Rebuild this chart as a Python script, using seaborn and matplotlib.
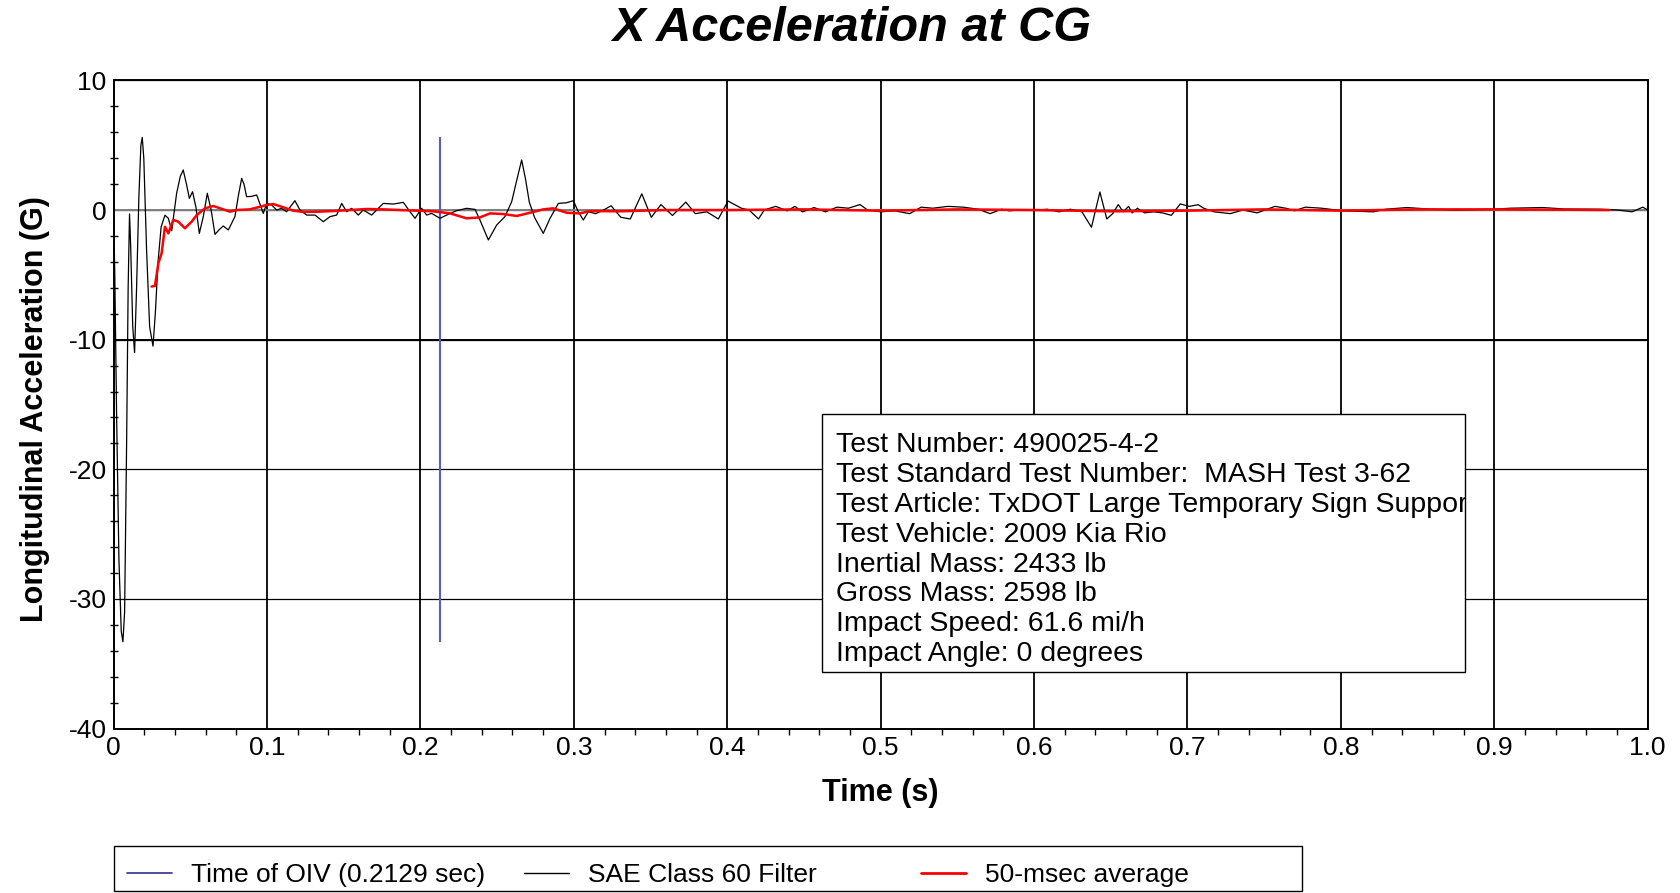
import seaborn as sns
import matplotlib.pyplot as plt
from matplotlib.patches import Rectangle
from matplotlib.ticker import MultipleLocator
import pandas as pd
import numpy as np

# SAE Class 60 filtered signal (time s, accel G)
time_sae = [0.0, 0.0008, 0.0020, 0.0035, 0.0050, 0.0061, 0.0072, 0.0085, 0.0095, 0.0104,
            0.0112, 0.0125, 0.0137, 0.0150, 0.0165, 0.0178, 0.0187, 0.0197, 0.0215, 0.0235,
            0.0257, 0.0272, 0.0290, 0.0310, 0.0335, 0.0357, 0.0379, 0.0411, 0.0435, 0.0454,
            0.0475, 0.0494, 0.0515, 0.0537, 0.0559, 0.0585, 0.0611, 0.0636, 0.0661, 0.0690,
            0.0715, 0.0748, 0.0791, 0.0815, 0.0835, 0.0850, 0.0867, 0.0900, 0.0933, 0.0976,
            0.0998, 0.1030, 0.1063, 0.1095, 0.1128, 0.1182, 0.1215, 0.1259, 0.1313, 0.1367,
            0.1411, 0.1454, 0.1487, 0.1519, 0.1552, 0.1595, 0.1628, 0.1682, 0.1758, 0.1823,
            0.1889, 0.1932, 0.1965, 0.2008, 0.2041, 0.2073, 0.2128, 0.2171, 0.2236, 0.2301,
            0.2356, 0.2388, 0.2443, 0.2497, 0.2551, 0.2595, 0.2630, 0.2660, 0.2685, 0.2710,
            0.2745, 0.2801, 0.2845, 0.2899, 0.2953, 0.2997, 0.3029, 0.3062, 0.3094, 0.3144,
            0.3194, 0.3243, 0.3306, 0.3368, 0.3443, 0.3505, 0.3568, 0.3643, 0.3730, 0.3792,
            0.3867, 0.3942, 0.4005, 0.4092, 0.4142, 0.4204, 0.4241, 0.4316, 0.4391, 0.4441,
            0.4491, 0.4566, 0.4640, 0.4715, 0.4790, 0.4865, 0.4915, 0.5002, 0.5089, 0.5189,
            0.5264, 0.5339, 0.5439, 0.5538, 0.5638, 0.5713, 0.5788, 0.5838, 0.5913, 0.6012,
            0.6087, 0.6162, 0.6237, 0.6312, 0.6374, 0.6429, 0.6474, 0.6512, 0.6549, 0.6581,
            0.6616, 0.6639, 0.6674, 0.6720, 0.6779, 0.6837, 0.6895, 0.6953, 0.7011, 0.7070,
            0.7105, 0.7174, 0.7279, 0.7361, 0.7454, 0.7570, 0.7640, 0.7698, 0.7768, 0.7873,
            0.8013, 0.8210, 0.8292, 0.8431, 0.8594, 0.8757, 0.8990, 0.9107, 0.9316, 0.9456,
            0.9689, 0.9805, 0.9898, 0.9968, 1.0]
accel_sae = [0.0, -5.0, -16.0, -27.0, -32.5, -33.3, -31.0, -18.0, -6.0, -0.3,
             -3.0, -9.0, -11.0, -6.0, 1.0, 5.0, 5.6, 4.0, -3.0, -9.0,
             -10.5, -8.0, -4.0, -1.3, -0.4, -0.64, -1.6, 1.29, 2.6, 3.09,
             2.0, 0.9, 1.41, 0.2, -1.8, -0.5, 1.29, 0.0, -1.88, -1.5,
             -1.23, -1.54, -0.51, 1.2, 2.44, 2.0, 1.03, 1.05, 1.16, -0.26,
             0.51, 0.39, 0.0, 0.13, -0.13, 0.72, 0.0, -0.39, -0.39, -0.9,
             -0.51, -0.39, 0.51, -0.13, 0.13, -0.39, 0.0, -0.39, 0.51, 0.46,
             0.59, -0.13, -0.64, 0.13, -0.39, -0.26, -0.64, -0.39, -0.05, 0.13,
             0.05, -0.77, -2.31, -1.16, -0.51, 0.64, 2.4, 3.86, 2.4, 0.6,
             -0.6, -1.8, -0.64, 0.51, 0.56, 0.72, -0.13, -0.77, -0.14, -0.28,
             0.0, 0.33, -0.56, -0.69, 1.25, -0.56, 0.42, -0.42, 0.61, -0.28,
             -0.14, -0.69, 0.69, 0.14, 0.0, -0.69, 0.0, 0.28, -0.06, 0.28,
             -0.14, 0.19, -0.14, 0.22, 0.14, 0.42, 0.0, -0.14, -0.06, -0.28,
             0.22, 0.14, 0.28, 0.22, 0.06, -0.28, 0.06, -0.06, 0.0, 0.0,
             0.06, -0.14, 0.06, -0.14, -1.33, 1.39, -0.69, -0.28, 0.42, -0.14,
             0.28, -0.22, 0.14, -0.22, -0.14, -0.22, -0.41, 0.47, 0.28, 0.41,
             0.14, -0.14, -0.28, 0.0, -0.22, 0.28, 0.14, -0.06, 0.22, 0.14,
             -0.06, -0.14, 0.06, 0.19, 0.06, 0.0, 0.06, 0.14, 0.19, 0.08,
             0.06, 0.0, -0.14, 0.22, 0.0]

# 50-msec average
time_avg = [0.0248, 0.0270, 0.0292, 0.0313, 0.0335, 0.0357, 0.0389, 0.0422, 0.0465, 0.0509,
            0.0542, 0.0596, 0.0650, 0.0715, 0.0759, 0.0802, 0.0889, 0.0998, 0.1041, 0.1106,
            0.1172, 0.1237, 0.1324, 0.1433, 0.1541, 0.1650, 0.1758, 0.1867, 0.1976, 0.2084,
            0.2193, 0.2301, 0.2388, 0.2454, 0.2541, 0.2628, 0.2714, 0.2801, 0.2866, 0.2953,
            0.3040, 0.3106, 0.3300, 0.3600, 0.4000, 0.4500, 0.5000, 0.5500, 0.6000, 0.6500,
            0.7000, 0.7500, 0.8000, 0.8500, 0.9000, 0.9500, 0.9750]
accel_avg = [-5.9, -5.85, -4.1, -3.35, -1.29, -1.8, -0.77, -0.9, -1.41, -0.9,
             -0.39, 0.13, 0.31, 0.05, -0.13, 0.0, 0.05, 0.39, 0.46, 0.21,
             -0.05, -0.15, -0.13, -0.08, 0.0, 0.08, 0.05, 0.0, -0.05, -0.1,
             -0.26, -0.64, -0.57, -0.26, -0.31, -0.46, -0.21, 0.05, 0.13, -0.21,
             -0.26, -0.08, -0.1, 0.0, 0.0, 0.05, -0.05, 0.05, 0.0, -0.1,
             -0.05, 0.05, -0.05, 0.05, 0.05, 0.02, 0.0]

oiv_time = 0.2129

info_lines = ["Test Number: 490025-4-2",
              "Test Standard Test Number:  MASH Test 3-62",
              "Test Article: TxDOT Large Temporary Sign Support",
              "Test Vehicle: 2009 Kia Rio",
              "Inertial Mass: 2433 lb",
              "Gross Mass: 2598 lb",
              "Impact Speed: 61.6 mi/h",
              "Impact Angle: 0 degrees"]

legend_labels = ['Time of OIV (0.2129 sec)', 'SAE Class 60 Filter', '50-msec average']

x_ticks = [0.0, 0.1, 0.2, 0.3, 0.4, 0.5, 0.6, 0.7, 0.8, 0.9, 1.0]
x_tick_labels = ['0', '0.1', '0.2', '0.3', '0.4', '0.5', '0.6', '0.7', '0.8', '0.9', '1.0']
y_ticks = [-40, -30, -20, -10, 0, 10]

sae = pd.DataFrame({'t': time_sae, 'g': accel_sae})
avg = pd.DataFrame({'t': time_avg, 'g': accel_avg})

sns.set_style('white')
plt.rcParams['font.family'] = ['Liberation Sans', 'DejaVu Sans']
plt.rcParams['axes.unicode_minus'] = False
plt.rcParams['text.color'] = 'black'
plt.rcParams['axes.labelcolor'] = 'black'
plt.rcParams['xtick.color'] = 'black'
plt.rcParams['ytick.color'] = 'black'

fig = plt.figure(figsize=(16.8, 8.93), dpi=100)
ax = fig.add_axes([0.0676, 0.1841, 0.9132, 0.7259])

ax.grid(axis='x', color='black', lw=1.3)
ax.grid(axis='y', color='black', lw=0.9)
ax.axhline(0, color='#808080', lw=1.4, zorder=1)
ax.axhline(-10, color='black', lw=1.4, zorder=1)

ax.vlines(oiv_time, min(accel_sae), max(accel_sae), color='#5a5ac8', lw=1.5, zorder=2)
sns.lineplot(data=sae, x='t', y='g', ax=ax, color='black', lw=0.9,
             estimator=None, sort=False, zorder=3)
sns.lineplot(data=avg, x='t', y='g', ax=ax, color='red', lw=1.8,
             estimator=None, sort=False, zorder=4)

ax.set_xlim(0, 1)
ax.set_ylim(-40, 10)
ax.set_xticks(x_ticks)
ax.set_xticklabels(x_tick_labels)
ax.set_yticks(y_ticks)
ax.xaxis.set_minor_locator(MultipleLocator(0.02))
ax.yaxis.set_minor_locator(MultipleLocator(2))
ax.tick_params(axis='both', which='major', labelsize=19, length=4, width=1.2,
               direction='out', color='black', pad=1)
ax.tick_params(axis='x', which='minor', length=4, width=1, direction='out', bottom=True)
ax.tick_params(axis='y', which='minor', length=6, width=1, direction='inout', left=True)
for s in ax.spines.values():
    s.set_color('black')
    s.set_linewidth(1.4)

ax.set_xlabel('Time (s)', fontsize=22, fontweight='bold')
ax.xaxis.set_label_coords(0.5, -0.099)
ax.xaxis.label.set_va('center')
ax.set_ylabel('Longitudinal Acceleration (G)', fontsize=22, fontweight='bold')
ax.yaxis.set_label_coords(-0.0512, 0.493)
ax.yaxis.label.set_va('center')

fig.text(0.507, 0.968, 'X Acceleration at CG', fontsize=35, fontweight='bold',
         fontstyle='italic', ha='center', va='center')

# info box, text clipped at the box edge like the original
box = Rectangle((0.4618, 0.0876), 0.4191, 0.3983, transform=ax.transAxes,
                facecolor='white', edgecolor='black', lw=1.0, zorder=5)
ax.add_patch(box)
info = ax.text(0.4707, 0.457, '\n'.join(info_lines), transform=ax.transAxes, fontsize=20.5,
               va='top', ha='left', linespacing=1.19, zorder=6)
info.set_clip_on(True)
info.set_clip_path(box)

# legend along the bottom: frame plus one entry per slot
fig.patches.append(Rectangle((0.0676, 0.0018), 0.7073, 0.0504, transform=fig.transFigure,
                             facecolor='white', edgecolor='black', lw=1.0))
handles = [plt.Line2D([], [], color='#303090', lw=1.2),
           plt.Line2D([], [], color='black', lw=1.0),
           plt.Line2D([], [], color='red', lw=2.0)]
slot_x = [0.0756, 0.3119, 0.5482]
for h, lab, x0 in zip(handles, legend_labels, slot_x):
    fig.legend([h], [lab], loc='center left', bbox_to_anchor=(x0, 0.0198), frameon=False,
               fontsize=19, handlelength=1.7, handletextpad=0.72,
               borderpad=0, borderaxespad=0)

fig.savefig('out.png', dpi=100)
